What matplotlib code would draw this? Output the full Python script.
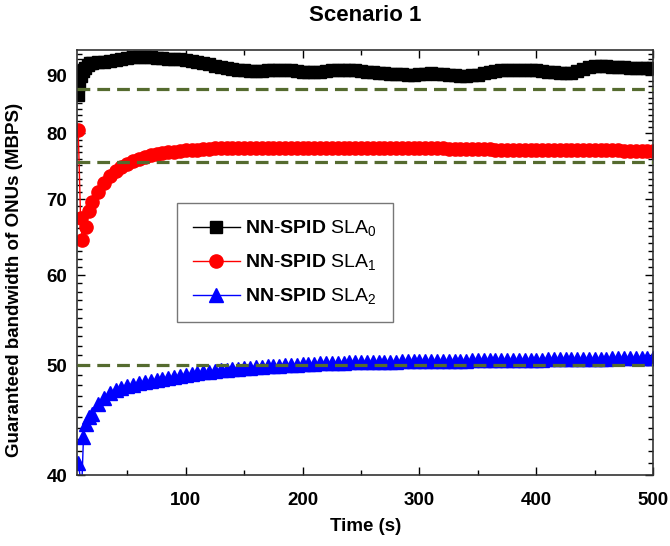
"""
Scenario 1: guaranteed bandwidth of ONUs per SLA class over time
"""
import matplotlib
matplotlib.use("Agg")
import matplotlib.pyplot as plt
from matplotlib.ticker import FixedLocator, NullFormatter, FuncFormatter

plt.rcParams['font.family'] = ['Liberation Sans', 'DejaVu Sans']
plt.rcParams['mathtext.fontset'] = 'custom'
plt.rcParams['mathtext.rm'] = 'Liberation Sans'
plt.rcParams['mathtext.bf'] = 'Liberation Sans:bold'

# 数据
t_sla0 = [8, 9, 10, 12, 14, 16, 18] + list(range(20, 501, 5))
bw_sla0 = [86.5, 88.5, 89.8, 90.8, 91.4, 91.9, 92.2,
           92.3, 92.4, 92.5, 92.7, 92.9, 93.1, 93.3, 93.4, 93.5, 93.5,
           93.4, 93.3, 93.2, 93.1, 93.0, 93.0, 92.9, 92.7, 92.5, 92.3,
           92.0, 91.8, 91.6, 91.4, 91.2, 91.0, 90.9, 90.8, 90.8, 90.8,
           90.9, 91.0, 91.0, 91.0, 90.9, 90.8, 90.7, 90.6, 90.6, 90.7,
           90.8, 90.9, 91.0, 91.0, 91.0, 90.9, 90.8, 90.7, 90.6, 90.5,
           90.4, 90.3, 90.2, 90.2, 90.1, 90.1, 90.2, 90.3, 90.4, 90.3,
           90.2, 90.1, 90.0, 89.9, 89.9, 90.0, 90.1, 90.4, 90.6, 90.8,
           90.9, 91.0, 91.0, 91.0, 91.0, 91.0, 90.9, 90.8, 90.7, 90.6,
           90.5, 90.4, 90.5, 90.8, 91.2, 91.6, 91.8, 91.8, 91.7, 91.6,
           91.5, 91.5, 91.4, 91.4, 91.4, 91.4, 91.4]

t_sla1 = [8, 10, 11.5, 14.5, 17] + list(range(20, 501, 5))
bw_sla1 = [80.5, 67.4, 64.4, 66.2, 68.4,
           69.6, 71.1, 72.3, 73.3, 74.1, 74.7, 75.2, 75.6, 76.0, 76.3,
           76.5, 76.7, 76.9, 77.0, 77.1, 77.2, 77.3, 77.4, 77.4, 77.5,
           77.5, 77.6, 77.6, 77.6, 77.6, 77.6, 77.6, 77.6, 77.6, 77.6,
           77.6, 77.6, 77.6, 77.6, 77.6, 77.6, 77.6, 77.6, 77.6, 77.6,
           77.6, 77.6, 77.6, 77.6, 77.6, 77.6, 77.6, 77.6, 77.6, 77.6,
           77.6, 77.6, 77.6, 77.6, 77.6, 77.6, 77.6, 77.6, 77.6, 77.6,
           77.6, 77.5, 77.5, 77.5, 77.5, 77.5, 77.5, 77.5, 77.5, 77.4,
           77.4, 77.4, 77.4, 77.4, 77.4, 77.4, 77.4, 77.4, 77.4, 77.4,
           77.4, 77.4, 77.3, 77.3, 77.3, 77.3, 77.3, 77.3, 77.3, 77.3,
           77.3, 77.2, 77.2, 77.2, 77.2, 77.2, 77.2]

t_sla2 = [8, 11, 12.5, 14.5, 17] + list(range(20, 501, 5))
bw_sla2 = [41.0, 39.0, 43.2, 44.4, 45.0,
           45.3, 46.2, 46.8, 47.2, 47.5, 47.7, 47.9, 48.0, 48.2, 48.3,
           48.4, 48.5, 48.6, 48.7, 48.8, 48.9, 49.0, 49.1, 49.2, 49.3,
           49.3, 49.4, 49.5, 49.5, 49.6, 49.6, 49.7, 49.7, 49.8, 49.8,
           49.9, 49.9, 49.9, 50.0, 50.0, 50.0, 50.1, 50.1, 50.1, 50.2,
           50.2, 50.2, 50.2, 50.2, 50.3, 50.3, 50.3, 50.3, 50.3, 50.3,
           50.3, 50.3, 50.3, 50.4, 50.4, 50.4, 50.4, 50.4, 50.4, 50.4,
           50.4, 50.4, 50.4, 50.4, 50.4, 50.5, 50.5, 50.5, 50.5, 50.5,
           50.5, 50.5, 50.5, 50.5, 50.5, 50.5, 50.5, 50.5, 50.6, 50.6,
           50.6, 50.6, 50.6, 50.6, 50.6, 50.6, 50.6, 50.6, 50.6, 50.7,
           50.7, 50.7, 50.7, 50.7, 50.7, 50.7, 50.7]

sla_targets = [87.6, 75.5, 50.0]
labels = [r"$\mathbf{NN}$-$\mathbf{SPID}$ SLA$_0$",
          r"$\mathbf{NN}$-$\mathbf{SPID}$ SLA$_1$",
          r"$\mathbf{NN}$-$\mathbf{SPID}$ SLA$_2$"]
y_ticks = [40, 50, 60, 70, 80, 90]
x_ticks = [100, 200, 300, 400, 500]

fig = plt.figure(figsize=(6.7, 5.46), dpi=100)
ax = fig.add_axes([0.115, 0.130, 0.860, 0.778])

ax.plot(t_sla0, bw_sla0, color="black", marker="s", markersize=8.5, lw=1, label=labels[0])
ax.plot(t_sla1, bw_sla1, color="red", marker="o", markersize=9.5, lw=1, label=labels[1])
ax.plot(t_sla2, bw_sla2, color="blue", marker="^", markersize=10, lw=1, label=labels[2])
for y in sla_targets:
    ax.axhline(y, color="#556b2f", lw=2.3, ls=(0, (4, 2.2)), zorder=5)

ax.set_yscale("log")
ax.set_xlim(7, 500)
ax.set_ylim(40, 94.7)
ax.yaxis.set_major_locator(FixedLocator(y_ticks))
ax.yaxis.set_major_formatter(FuncFormatter(lambda v, p: "%d" % v))
ax.yaxis.set_minor_locator(FixedLocator([v for v in range(40, 95) if v not in y_ticks]))
ax.yaxis.set_minor_formatter(NullFormatter())
ax.xaxis.set_major_locator(FixedLocator(x_ticks))
ax.xaxis.set_minor_locator(FixedLocator([50, 150, 250, 350, 450]))

ax.tick_params(which="both", direction="in", top=True, right=True, labelsize=13.5, width=1)
ax.tick_params(which="major", length=6)
ax.tick_params(axis="x", which="major", pad=12)
ax.tick_params(axis="y", which="major", pad=7)
ax.tick_params(which="minor", length=3.5)
for lab in ax.get_xticklabels() + ax.get_yticklabels():
    lab.set_fontweight("bold")
for s in ax.spines.values():
    s.set_linewidth(1.2)
    s.set_color("#333333")

ax.set_xlabel("Time (s)", fontsize=13.5, fontweight="bold", labelpad=7)
ax.set_ylabel("Guaranteed bandwidth of ONUs (MBPS)", fontsize=13.5, fontweight="bold", labelpad=9)
ax.yaxis.set_label_coords(-0.093, 0.46)
ax.set_title("Scenario 1", fontsize=16, fontweight="bold", pad=21)

ax.legend(loc="upper left", bbox_to_anchor=(0.174, 0.64), fontsize=14, fancybox=False,
          edgecolor="#777777", framealpha=1, handlelength=2.4, labelspacing=0.7,
          borderpad=0.8, handletextpad=0.3, borderaxespad=0, markerscale=1.0)

fig.savefig("out.png", dpi=100)
